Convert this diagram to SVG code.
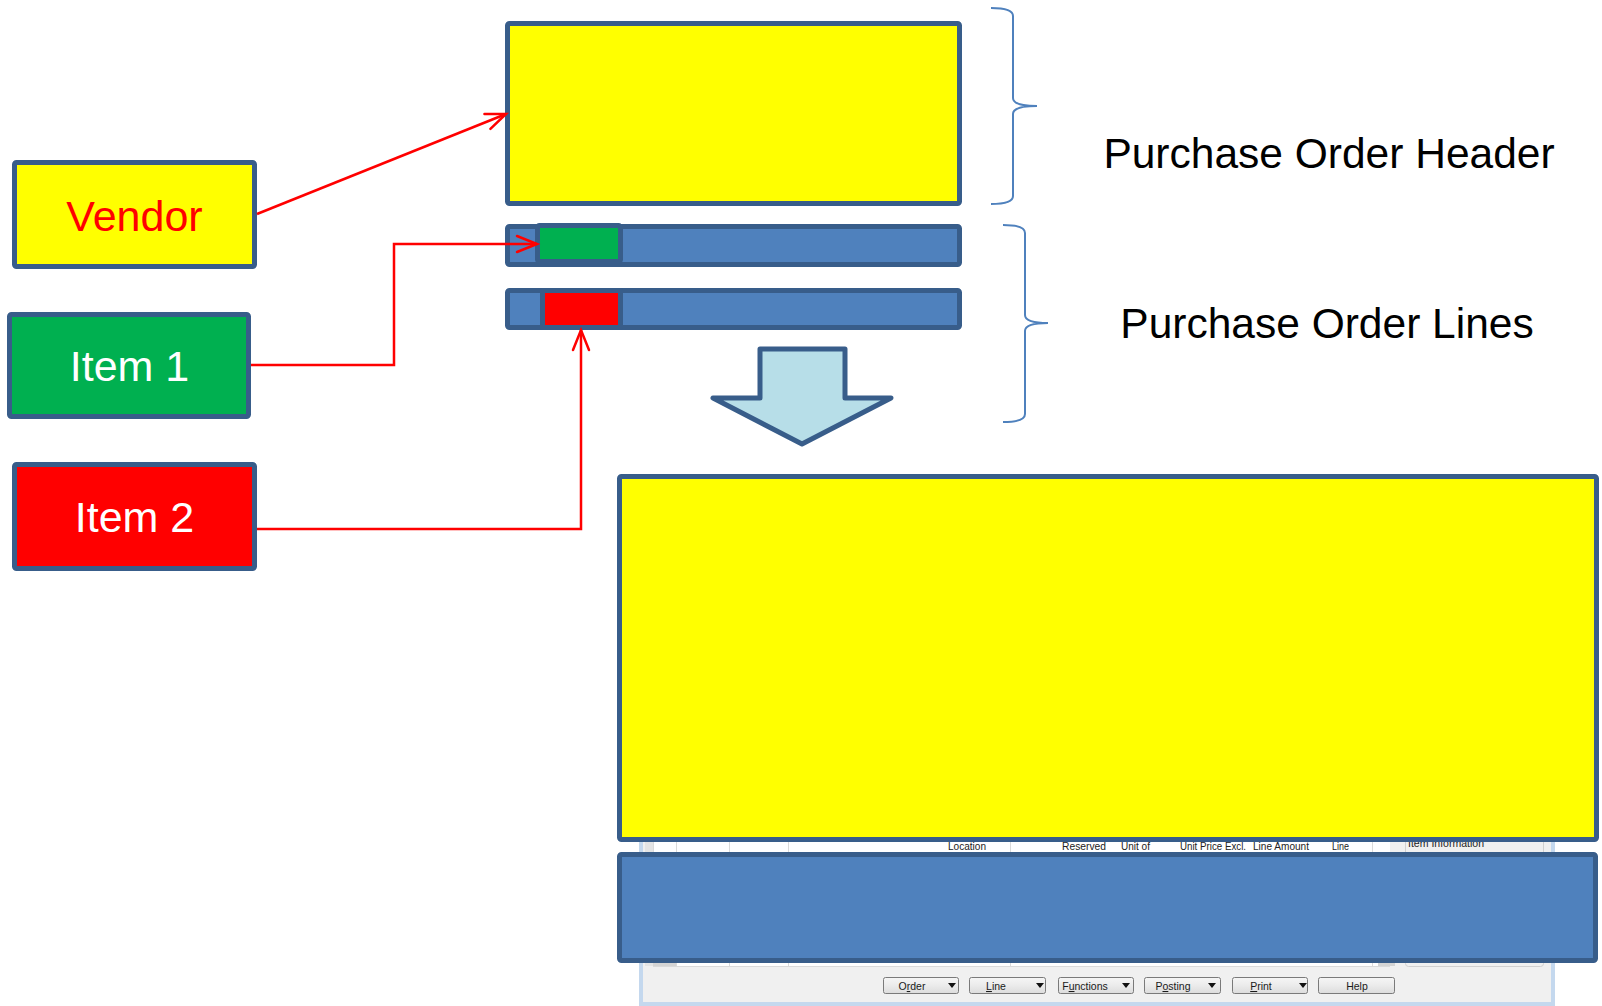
<svg xmlns="http://www.w3.org/2000/svg" width="1602" height="1006" viewBox="0 0 1602 1006">
  <defs>
    <marker id="openArrow" viewBox="-24 -12 28 24" refX="0" refY="0" markerWidth="28" markerHeight="24" markerUnits="userSpaceOnUse" orient="auto">
      <path d="M-20,-8 L0,0 L-20,8" fill="none" stroke="#FF0000" stroke-width="2.5" stroke-linecap="round" stroke-linejoin="miter"/>
    </marker>
    <linearGradient id="btnGrad" x1="0" y1="0" x2="0" y2="1">
      <stop offset="0" stop-color="#F6F6F6"/>
      <stop offset="0.5" stop-color="#EBEBEB"/>
      <stop offset="1" stop-color="#DCDCDC"/>
    </linearGradient>
  </defs>
  <style>
    .box { stroke: #385D8A; stroke-width: 5; stroke-linejoin: round; }
    .yellow { fill: #FFFF00; }
    .green { fill: #00B050; }
    .red { fill: #FF0000; }
    .blue { fill: #4F81BD; }
    .lbl { font-family: "Liberation Sans", Arial, sans-serif; font-size: 43px; text-anchor: middle; }
    .big { font-family: "Liberation Sans", Arial, sans-serif; font-size: 42.5px; fill: #000000; text-anchor: middle; }
    .brace { fill: none; stroke: #4F81BD; stroke-width: 2; }
    .conn { fill: none; stroke: #FF0000; stroke-width: 2.5; }
    .col { font-family: "Liberation Sans", Arial, sans-serif; font-size: 10.5px; fill: #222222; }
    .btn { fill: url(#btnGrad); stroke: #7A7A7A; stroke-width: 1; }
    .btxt { font-family: "Liberation Sans", Arial, sans-serif; font-size: 10.5px; fill: #1A1A1A; text-anchor: middle; }
    .tri { fill: #111111; }
    .gl { stroke: #DADADA; stroke-width: 1; }
  </style>

  <rect x="0" y="0" width="1602" height="1006" fill="#FFFFFF"/>

  <!-- Screenshot fragment behind the form boxes -->
  <g id="screenshot-window">
    <rect x="639" y="800" width="916" height="206" fill="#C4D8EE"/>
    <rect x="643" y="800" width="908" height="202" fill="#F0F0F0"/>
    <rect x="645" y="800" width="8" height="166" fill="#E4E4E4"/>
    <rect x="653" y="800" width="737" height="166" fill="#FFFFFF"/>
    <line class="gl" x1="653.5" y1="800" x2="653.5" y2="966"/>
    <line class="gl" x1="676.5" y1="800" x2="676.5" y2="966"/>
    <line class="gl" x1="729.5" y1="800" x2="729.5" y2="966"/>
    <line class="gl" x1="788.5" y1="800" x2="788.5" y2="966"/>
    <line class="gl" x1="1010.5" y1="800" x2="1010.5" y2="966"/>
    <line class="gl" x1="1372.5" y1="800" x2="1372.5" y2="966"/>
    <line class="gl" x1="653" y1="966.5" x2="1390" y2="966.5"/>
    <rect x="653" y="962" width="23" height="4" fill="#D4D4D4"/>
    <rect x="1378" y="962" width="17" height="4" fill="#D4D4D4"/>
    <rect x="1405.5" y="838.5" width="138" height="128" rx="3" fill="none" stroke="#D0D0D0" stroke-width="1"/>
    <text class="col" x="948" y="850" textLength="38" lengthAdjust="spacingAndGlyphs" fill="#1F2D5A">Location</text>
    <text class="col" x="1062" y="850" textLength="44" lengthAdjust="spacingAndGlyphs">Reserved</text>
    <text class="col" x="1121" y="850" textLength="29" lengthAdjust="spacingAndGlyphs">Unit of</text>
    <text class="col" x="1180" y="850" textLength="66" lengthAdjust="spacingAndGlyphs">Unit Price Excl.</text>
    <text class="col" x="1253" y="850" textLength="56" lengthAdjust="spacingAndGlyphs">Line Amount</text>
    <text class="col" x="1332" y="850" textLength="17" lengthAdjust="spacingAndGlyphs">Line</text>
    <text class="col" x="1408" y="847" textLength="76" lengthAdjust="spacingAndGlyphs">Item Information</text>

    <g id="buttons">
      <rect class="btn" x="883.5" y="977.5" width="75" height="16" rx="2"/>
      <text class="btxt" x="912" y="990">O<tspan text-decoration="underline">r</tspan>der</text>
      <path class="tri" d="M948,983 L956,983 L952,988 Z"/>
      <rect class="btn" x="969.5" y="977.5" width="76" height="16" rx="2"/>
      <text class="btxt" x="996" y="990"><tspan text-decoration="underline">L</tspan>ine</text>
      <path class="tri" d="M1036,983 L1044,983 L1040,988 Z"/>
      <rect class="btn" x="1058.5" y="977.5" width="75" height="16" rx="2"/>
      <text class="btxt" x="1085" y="990">F<tspan text-decoration="underline">u</tspan>nctions</text>
      <path class="tri" d="M1122,983 L1130,983 L1126,988 Z"/>
      <rect class="btn" x="1144.5" y="977.5" width="76" height="16" rx="2"/>
      <text class="btxt" x="1173" y="990">P<tspan text-decoration="underline">o</tspan>sting</text>
      <path class="tri" d="M1208,983 L1216,983 L1212,988 Z"/>
      <rect class="btn" x="1232.5" y="977.5" width="75" height="16" rx="2"/>
      <text class="btxt" x="1261" y="990"><tspan text-decoration="underline">P</tspan>rint</text>
      <path class="tri" d="M1299,983 L1307,983 L1303,988 Z"/>
      <rect class="btn" x="1318.5" y="977.5" width="76" height="16" rx="2"/>
      <text class="btxt" x="1357" y="990">Help</text>
    </g>
  </g>

  <!-- Form result boxes -->
  <g id="form-header">
    <rect class="box yellow" x="619.5" y="476.5" width="977" height="363" rx="2"/>
  </g>
  <g id="form-lines">
    <rect class="box blue" x="619.5" y="854.5" width="976" height="106" rx="2"/>
  </g>

  <!-- Source nodes -->
  <g id="vendor">
    <rect class="box yellow" x="14.5" y="162.5" width="240" height="104" rx="2"/>
    <text class="lbl" x="134.5" y="231" fill="#FF0000">Vendor</text>
  </g>
  <g id="item1">
    <rect class="box green" x="9.5" y="314.5" width="239" height="102" rx="2"/>
    <text class="lbl" x="129.5" y="381" fill="#FFFFFF">Item 1</text>
  </g>
  <g id="item2">
    <rect class="box red" x="14.5" y="464.5" width="240" height="104" rx="2"/>
    <text class="lbl" x="134.5" y="532" fill="#FFFFFF">Item 2</text>
  </g>

  <!-- Purchase order structure -->
  <g id="po-header">
    <rect class="box yellow" x="507.5" y="23.5" width="452" height="180" rx="2"/>
  </g>
  <g id="po-line1">
    <rect class="box blue" x="507.5" y="226.5" width="452" height="38" rx="2"/>
    <rect class="box green" x="537.5" y="225.5" width="83" height="36" rx="2"/>
  </g>
  <g id="po-line2">
    <rect class="box blue" x="507.5" y="290.5" width="452" height="37" rx="2"/>
    <rect class="box red" x="542.5" y="290.5" width="78" height="37"/>
  </g>

  <g id="down-arrow">
    <path class="box" fill="#B7DEE8" d="M760,349 L845,349 L845,398 L891,398 L802,444 L713,398 L760,398 Z"/>
  </g>

  <!-- Braces and labels -->
  <g id="header-brace">
    <path class="brace" d="M991,8 Q1013,8 1013,16 L1013,98 Q1013,106 1037,106 Q1013,106 1013,114 L1013,196 Q1013,204 991,204"/>
    <text class="big" x="1329" y="168">Purchase Order Header</text>
  </g>
  <g id="lines-brace">
    <path class="brace" d="M1003,225 Q1025,225 1025,233 L1025,315 Q1025,323 1048,323 Q1025,323 1025,331 L1025,414 Q1025,422 1003,422"/>
    <text class="big" x="1327" y="338">Purchase Order Lines</text>
  </g>

  <!-- Connectors -->
  <g id="connectors">
    <path class="conn" d="M257,214 L506,114" marker-end="url(#openArrow)"/>
    <path class="conn" d="M251,365 L394,365 L394,244 L537,244" marker-end="url(#openArrow)"/>
    <path class="conn" d="M257,529 L581,529 L581,330" marker-end="url(#openArrow)"/>
  </g>
</svg>
